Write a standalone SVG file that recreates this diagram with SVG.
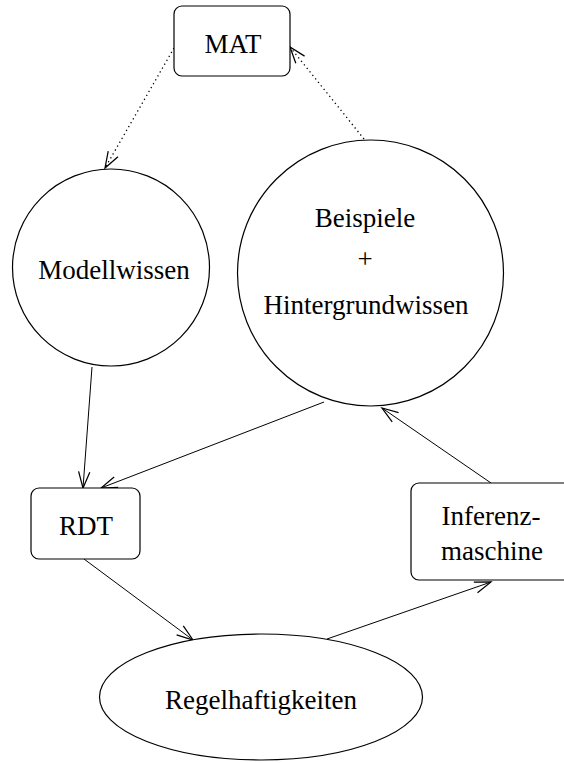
<svg xmlns="http://www.w3.org/2000/svg" width="564" height="763" viewBox="0 0 564 763">
<style>
.n{fill:#fff;stroke:#000;stroke-width:1.2}
.t{font-family:"Liberation Serif","Times New Roman",serif;font-size:27px;fill:#000;text-anchor:middle}
.c{fill:none;stroke:#000;stroke-width:1}
.d{stroke-width:1.3;stroke-dasharray:1.3 3.2}
</style>
<defs>
<marker id="ah" markerUnits="userSpaceOnUse" markerWidth="20" markerHeight="20" refX="0" refY="0" viewBox="-14 -7 16 14" orient="auto" overflow="visible">
<path d="M-13,-4.5 L0,0 L-13,4.5" fill="none" stroke="#000" stroke-width="1"/>
</marker>
</defs>
<rect width="564" height="763" fill="#fff"/>
<g id="connectors">
<line class="c d" x1="174" y1="48" x2="105" y2="168" marker-end="url(#ah)"/>
<line class="c d" x1="364" y1="139" x2="290" y2="47" marker-end="url(#ah)"/>
<line class="c" x1="92" y1="367" x2="83" y2="488" marker-end="url(#ah)"/>
<line class="c" x1="324" y1="402" x2="101" y2="488" marker-end="url(#ah)"/>
<line class="c" x1="491" y1="483" x2="382" y2="408" marker-end="url(#ah)"/>
<line class="c" x1="84" y1="559" x2="193" y2="640" marker-end="url(#ah)"/>
<line class="c" x1="327" y1="639" x2="491" y2="582" marker-end="url(#ah)"/>
</g>
<g id="MAT">
<rect class="n" x="174" y="6" width="116" height="70" rx="8"/>
<text class="t" x="233" y="53">MAT</text>
</g>
<g id="Modellwissen">
<circle class="n" cx="111" cy="267.5" r="98.5"/>
<text class="t" x="114" y="279">Modellwissen</text>
</g>
<g id="Beispiele">
<circle class="n" cx="370.5" cy="273" r="133"/>
<text class="t" x="365" y="227">Beispiele</text>
<text class="t" x="365" y="267.5">+</text>
<text class="t" x="366" y="314">Hintergrundwissen</text>
</g>
<g id="RDT">
<rect class="n" x="31" y="488" width="109" height="71" rx="8"/>
<text class="t" x="86" y="535">RDT</text>
</g>
<g id="Inferenzmaschine">
<rect class="n" x="411" y="483" width="165" height="97" rx="8"/>
<text class="t" x="491" y="525">Inferenz-</text>
<text class="t" x="492" y="560">maschine</text>
</g>
<g id="Regelhaftigkeiten">
<ellipse class="n" cx="261" cy="697" rx="161.5" ry="63"/>
<text class="t" x="261" y="709">Regelhaftigkeiten</text>
</g>
</svg>
